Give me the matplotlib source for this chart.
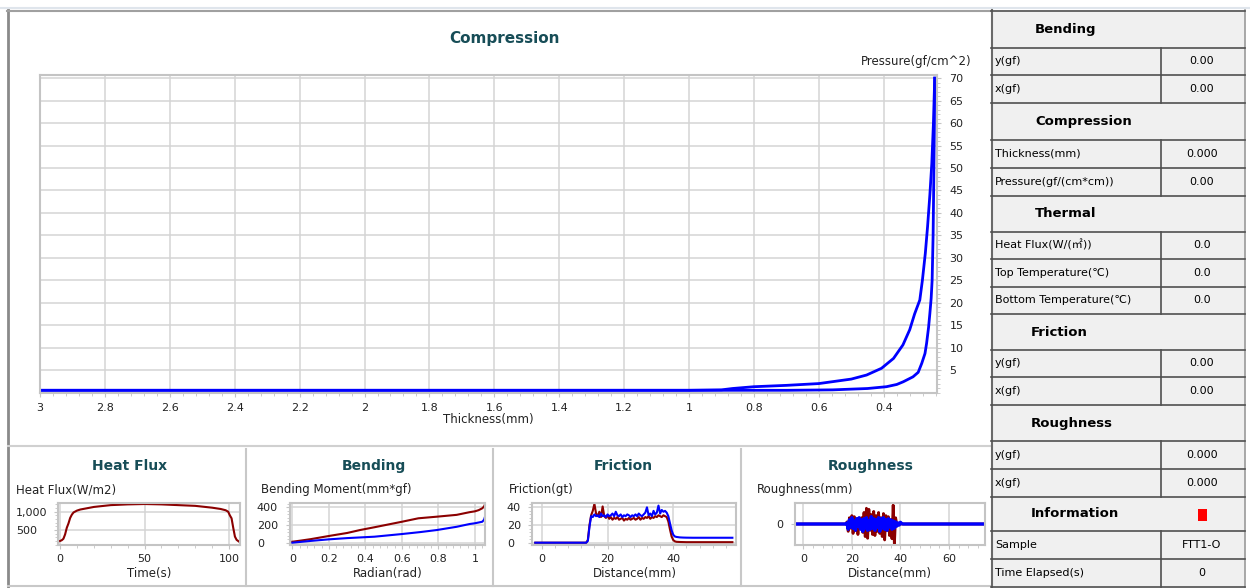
import matplotlib
matplotlib.use('Agg')
import matplotlib.pyplot as plt
from matplotlib.ticker import AutoMinorLocator
from matplotlib.patches import Rectangle

plt.rcParams['font.family'] = ['DejaVu Sans', 'Noto Sans CJK SC']

# ---------------- data ----------------
# Compression: loading branch (outer) and recovery branch (inner)
load_thick = [3.0, 1.5, 1.0, 0.9, 0.866, 0.8, 0.7, 0.6, 0.5, 0.453, 0.407, 0.37, 0.341,
              0.32, 0.305, 0.289, 0.281, 0.272, 0.265, 0.258, 0.252, 0.247, 0.243]
load_press = [0.5, 0.5, 0.5, 0.6, 0.9, 1.3, 1.6, 2.0, 3.0, 3.9, 5.4, 7.6, 10.6,
              14.0, 17.5, 20.6, 25.0, 31.0, 37.0, 44.0, 51.0, 60.0, 70.0]
unload_thick = [3.0, 1.0, 0.7, 0.557, 0.45, 0.392, 0.36, 0.34, 0.31, 0.294, 0.283, 0.273,
                0.268, 0.262, 0.258, 0.254, 0.251, 0.248, 0.246, 0.244, 0.243]
unload_press = [0.5, 0.5, 0.5, 0.6, 0.9, 1.3, 1.8, 2.4, 3.5, 4.5, 6.5, 8.7,
                11.0, 14.5, 17.6, 21.0, 25.0, 35.0, 47.0, 60.0, 70.0]
comp_xticks = [3.0, 2.8, 2.6, 2.4, 2.2, 2.0, 1.8, 1.6, 1.4, 1.2, 1.0, 0.8, 0.6, 0.4]
comp_xlabels = ['3', '2.8', '2.6', '2.4', '2.2', '2', '1.8', '1.6', '1.4', '1.2', '1', '0.8', '0.6', '0.4']
comp_yticks = [5, 10, 15, 20, 25, 30, 35, 40, 45, 50, 55, 60, 65, 70]

# Heat flux
hf_time = [0, 1, 2, 3, 4, 5, 6, 7, 8, 10, 12, 16, 20, 30, 40, 50, 60, 70, 80, 84, 90,
           95, 98, 99.5, 100.5, 101.5, 102.5, 103.5, 104.5, 106]
hf_flux = [200, 220, 260, 380, 560, 680, 830, 920, 980, 1030, 1060, 1095, 1130, 1180, 1200,
           1210, 1200, 1180, 1160, 1140, 1110, 1075, 1040, 1000, 900, 820, 560, 320, 230, 180]

# Bending
bend_x_red = [0, 0.05, 0.1, 0.2, 0.3, 0.37, 0.45, 0.6, 0.69, 0.79, 0.9, 0.97, 1.0, 1.02, 1.04, 1.05, 1.055]
bend_red = [11, 25, 40, 76, 110, 143, 175, 237, 276, 294, 315, 345, 355, 368, 389, 410, 434]
bend_x_blue = [0, 0.1, 0.2, 0.3, 0.45, 0.6, 0.7, 0.79, 0.9, 0.97, 1.0, 1.04, 1.05, 1.055]
bend_blue = [0, 20, 38, 52, 68, 98, 120, 143, 180, 211, 220, 237, 260, 294]

# Friction
fr_x = [-2, 0, 5, 10, 13.5,
        14.0, 14.5, 15.0, 15.5, 16.0, 16.5, 17.0, 17.5, 18.0, 18.5, 19.0, 19.5, 20.0, 20.5,
        21.0, 21.5, 22.0, 22.5, 23.0, 23.5, 24.0, 24.5, 25.0, 25.5, 26.0, 26.5, 27.0, 27.5,
        28.0, 28.5, 29.0, 29.5, 30.0, 30.5, 31.0, 31.5, 32.0, 32.5, 33.0, 33.5, 34.0, 34.5,
        35.0, 35.5, 36.0, 36.5, 37.0, 37.5, 38.0, 38.5, 39.0, 39.5, 40.0, 40.5, 41.0,
        42, 43, 44, 46, 50, 54, 58]
fr_blue = [0, 0, 0, 0, 0,
           2, 18, 30, 29, 32, 30, 31, 29, 33, 30, 31, 29, 32, 30,
           31, 33, 30, 35, 31, 30, 32, 29, 31, 30, 32, 31, 29, 31,
           30, 32, 30, 33, 31, 30, 32, 34, 40, 31, 33, 30, 36, 32,
           34, 42, 33, 37, 35, 36, 34, 30, 22, 14, 9, 7, 6.5,
           6, 5.8, 5.7, 5.6, 5.6, 5.6, 5.6]
fr_red = [0, 0, 0, 0, 0,
          3, 20, 31, 36, 44, 33, 30, 35, 29, 41, 30, 28, 31, 27,
          29, 26, 28, 27, 29, 26, 27, 28, 25, 27, 26, 28, 26, 27,
          28, 26, 27, 29, 26, 28, 27, 29, 28, 30, 27, 29, 28, 30,
          29, 31, 30, 29, 31, 30, 29, 24, 15, 7, 3, 1.5, 1,
          0.8, 0.7, 0.6, 0.6, 0.6, 0.6, 0.6]

# Roughness
rg_x = [-2.6, 10, 17.5,
        18.0, 18.5, 19.0, 19.5, 20.0, 20.5, 21.0, 21.5, 22.0, 22.5, 23.0, 23.5, 24.0, 24.5,
        25.0, 25.5, 26.0, 26.5, 27.0, 27.5, 28.0, 28.5, 29.0, 29.5, 30.0, 30.5, 31.0, 31.5,
        32.0, 32.5, 33.0, 33.5, 34.0, 34.5, 35.0, 35.5, 36.0, 36.5, 37.0, 37.5, 38.0, 38.5,
        39.0, 39.5, 40.0, 40.5, 41.0,
        42, 60, 74.5]
rg_red = [0, 0, 0,
          0.1, -0.35, 0.3, -0.2, 0.4, -0.45, 0.35, -0.3, 0.25, -0.5, 0.2, -0.15, 0.3, -0.4,
          0.55, -0.6, 0.75, -0.68, 0.7, -0.3, 0.45, -0.5, 0.6, -0.55, 0.4, -0.35, 0.55, -0.45,
          0.3, -0.6, 0.5, -0.76, 0.4, -0.3, 0.35, -0.55, 0.2, -0.7, 0.9, -1.0, 0.3, 0.0,
          0, 0, 0, 0, 0,
          0, 0, 0]
rg_blue = [0, 0, 0,
           0.05, -0.25, 0.2, -0.15, 0.3, -0.2, 0.15, -0.3, 0.25, -0.1, 0.3, -0.25, 0.2, -0.35,
           0.25, -0.2, 0.3, -0.3, 0.15, -0.25, 0.35, -0.2, 0.25, -0.3, 0.2, -0.15, 0.3, -0.35,
           0.25, -0.2, 0.3, -0.25, 0.2, -0.3, 0.25, -0.15, 0.2, -0.25, 0.15, -0.2, 0.1, -0.1,
           0.05, -0.05, 0.08, 0.02, 0.0,
           0, 0, 0]

# Side table rows: (kind, label, value)
table_rows = [
    ('head', 'Bending', ''),
    ('row', 'y(gf)', '0.00'),
    ('row', 'x(gf)', '0.00'),
    ('head', 'Compression', ''),
    ('row', 'Thickness(mm)', '0.000'),
    ('row', 'Pressure(gf/(cm*cm))', '0.00'),
    ('head', 'Thermal', ''),
    ('row', 'Heat Flux(W/(㎡))', '0.0'),
    ('row', 'Top Temperature(℃)', '0.0'),
    ('row', 'Bottom Temperature(℃)', '0.0'),
    ('head', 'Friction', ''),
    ('row', 'y(gf)', '0.00'),
    ('row', 'x(gf)', '0.00'),
    ('head', 'Roughness', ''),
    ('row', 'y(gf)', '0.000'),
    ('row', 'x(gf)', '0.000'),
    ('info', 'Information', ''),
    ('row', 'Sample', 'FTT1-O'),
    ('row', 'Time Elapsed(s)', '0'),
]
row_edges = [11, 48, 75, 103, 140, 168, 196, 231.5, 259, 286.7, 314, 350, 377, 405,
             441, 468.5, 496.5, 531, 559, 587]
head_centers = {'Bending': 1066, 'Compression': 1084, 'Thermal': 1066,
                'Friction': 1059, 'Roughness': 1072, 'Information': 1075}

# ---------------- style ----------------
W, H = 1250, 588
TEAL = '#174d57'
BLUE = '#0000ff'
RED = '#8b0000'
GRID = '#d4d4d4'
SPINE = '#c4c4c4'
TXT = '#222222'

fig = plt.figure(figsize=(W / 100, H / 100), dpi=100)
fig.patch.set_facecolor('white')


def rect(l, t, r, b):
    return [l / W, 1 - b / H, (r - l) / W, (b - t) / H]


bg = fig.add_axes([0, 0, 1, 1])
bg.set_xlim(0, W)
bg.set_ylim(H, 0)
bg.axis('off')

# window chrome / frames
bg.plot([0, W], [8, 8], color='#dfe5ec', lw=1.5)
bg.plot([7.5, 7.5], [10, H], color='#8a8a8a', lw=2)
bg.plot([7, 991], [10.5, 10.5], color='#a0a0a0', lw=1.5)
bg.plot([8, 991], [446, 446], color='#d0d0d0', lw=1.5)
for xb in [246, 492.5, 741]:
    bg.plot([xb, xb], [449, 586], color='#c8c8c8', lw=1.5)
bg.plot([8, 991], [586, 586], color='#c8c8c8', lw=1.5)

# side table
bg.add_patch(Rectangle((991, 10), 1245 - 991, H - 10, facecolor='#f0f0f0', edgecolor='none'))
bg.plot([991.5, 991.5], [10, H], color='#6a6a6a', lw=1.5)
bg.plot([1245, 1245], [10, H], color='#9a9a9a', lw=1.2)
for ye in row_edges:
    bg.plot([991, 1245], [ye, ye], color='#505050', lw=1.2)
for i, (kind, label, value) in enumerate(table_rows):
    t, b = row_edges[i], row_edges[i + 1]
    yc = (t + b) / 2
    if kind in ('head', 'info'):
        bg.text(head_centers[label], yc, label, ha='center', va='center',
                fontsize=9.5, fontweight='bold', color='black')
        if kind == 'info':
            bg.add_patch(Rectangle((1198, 508.5), 8.5, 12, facecolor='#ff0000', edgecolor='none'))
    else:
        bg.plot([1161, 1161], [t, b], color='#505050', lw=1.2)
        bg.text(995, yc, label, ha='left', va='center', fontsize=8, color='black')
        bg.text(1202, yc, value, ha='center', va='center', fontsize=8, color='black')


def style_axes(ax, lw=1.5):
    ax.set_facecolor('white')
    for s in ax.spines.values():
        s.set_color(SPINE)
        s.set_linewidth(lw)
    ax.grid(True, color=GRID, lw=1.1)
    ax.set_axisbelow(True)
    ax.tick_params(which='both', color=SPINE, labelcolor=TXT)
    ax.tick_params(which='major', length=3)
    ax.tick_params(which='minor', length=2)


# ---------------- main compression chart ----------------
ax = fig.add_axes(rect(40, 75, 937, 393))
style_axes(ax)
ax.plot(load_thick, load_press, color=BLUE, lw=2, solid_joinstyle='round')
ax.plot(unload_thick, unload_press, color=BLUE, lw=2, solid_joinstyle='round')
ax.set_xlim(3.0, 0.236)
ax.set_ylim(-0.1, 70.7)
ax.yaxis.tick_right()
ax.set_yticks(comp_yticks)
ax.set_xticks(comp_xticks)
ax.set_xticklabels(comp_xlabels)
ax.xaxis.set_minor_locator(AutoMinorLocator(5))
ax.yaxis.set_minor_locator(AutoMinorLocator(5))
ax.tick_params(axis='x', which='major', labelsize=8, pad=4)
ax.tick_params(axis='y', which='major', labelsize=8, pad=6)
bg.text(504, 39, 'Compression', ha='center', va='center', fontsize=11,
        fontweight='bold', color=TEAL)
bg.text(972, 62, 'Pressure(gf/cm^2)', ha='right', va='center', fontsize=8.5, color=TXT)
bg.text(488, 420, 'Thickness(mm)', ha='center', va='center', fontsize=8.5, color=TXT)


# ---------------- small panels ----------------
def small_panel(box, label_left, title, title_x, ylab, ylab_x, xlab, xlab_x):
    l, t, r, b = box
    a = fig.add_axes(rect(l, t, r, b))
    style_axes(a)
    a.xaxis.set_minor_locator(AutoMinorLocator(5))
    a.yaxis.set_minor_locator(AutoMinorLocator(5))
    a.tick_params(axis='x', which='major', labelsize=8, pad=3.5)
    a.tick_params(axis='y', which='major', labelsize=8, pad=(l - label_left - 3) * 0.72)
    bg.text(title_x, 466, title, ha='center', va='center', fontsize=10,
            fontweight='bold', color=TEAL)
    bg.text(ylab_x, 490, ylab, ha='left', va='center', fontsize=8.5, color=TXT)
    bg.text(xlab_x, 574, xlab, ha='center', va='center', fontsize=8.5, color=TXT)
    return a


def left_align_yticks(a):
    for lbl in a.get_yticklabels():
        lbl.set_horizontalalignment('left')


# Heat flux
a1 = small_panel((58, 503, 240, 545), 17, 'Heat Flux', 130, 'Heat Flux(W/m2)', 16, 'Time(s)', 149)
a1.plot(hf_time, hf_flux, color=RED, lw=1.5)
a1.set_xlim(-1.2, 106.5)
a1.set_ylim(90, 1238)
a1.set_xticks([0, 50, 100])
a1.set_yticks([500, 1000])
a1.set_yticklabels(['500', '1,000'])
left_align_yticks(a1)

# Bending
a2 = small_panel((290, 503, 485, 545), 258, 'Bending', 374, 'Bending Moment(mm*gf)', 261,
                 'Radian(rad)', 388)
a2.plot(bend_x_red, bend_red, color=RED, lw=1.5)
a2.plot(bend_x_blue, bend_blue, color=BLUE, lw=1.5)
a2.set_xlim(-0.013, 1.055)
a2.set_ylim(-26, 449)
a2.set_xticks([0, 0.2, 0.4, 0.6, 0.8, 1.0])
a2.set_xticklabels(['0', '0.2', '0.4', '0.6', '0.8', '1'])
a2.set_yticks([0, 200, 400])
left_align_yticks(a2)

# Friction
a3 = small_panel((532, 503, 736, 545), 508, 'Friction', 623, 'Friction(gt)', 509,
                 'Distance(mm)', 635)
a3.plot(fr_x, fr_red, color=RED, lw=1.5)
a3.plot(fr_x, fr_blue, color=BLUE, lw=1.5)
a3.set_xlim(-3, 59.1)
a3.set_ylim(-2.6, 44.9)
a3.set_xticks([0, 20, 40])
a3.set_yticks([0, 20, 40])
left_align_yticks(a3)

# Roughness
a4 = small_panel((795, 503, 985, 545), 777, 'Roughness', 871, 'Roughness(mm)', 757,
                 'Distance(mm)', 890)
a4.plot(rg_x, rg_red, color=RED, lw=2)
a4.plot(rg_x, rg_blue, color=BLUE, lw=2.4)
a4.set_xlim(-3.4, 74.8)
a4.set_ylim(-1.0, 1.0)
a4.set_xticks([0, 20, 40, 60])
a4.set_yticks([0])
left_align_yticks(a4)

fig.savefig('out.png', dpi=100, facecolor='white')
